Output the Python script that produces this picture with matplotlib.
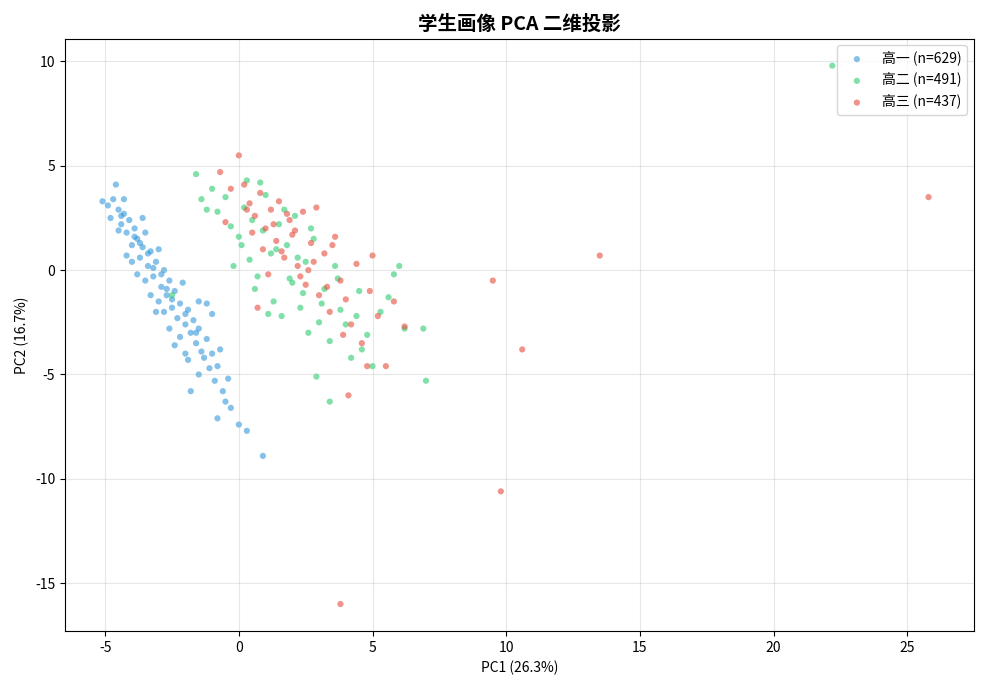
import matplotlib
matplotlib.use("Agg")
import matplotlib.pyplot as plt

plt.rcParams['font.family'] = ['Noto Sans CJK SC', 'DejaVu Sans']
plt.rcParams['axes.unicode_minus'] = False

labels = ["高一 (n=629)", "高二 (n=491)", "高三 (n=437)"]
colors = ["#3498db", "#2ecc71", "#e74c3c"]

g1_x = [-5.1,-4.9,-4.6,-4.7,-4.5,-4.4,-4.3,-4.2,-4.1,-4.5,-4.0,-3.9,-3.8,-3.7,-3.6,-3.5,-4.2,-3.4,-3.3,-3.2,-3.1,-3.0,-3.5,-2.9,-2.8,-2.7,-2.6,-3.0,-2.5,-2.4,-2.3,-2.2,-2.1,-2.8,-2.0,-1.9,-1.8,-1.7,-2.2,-1.6,-1.5,-1.4,-1.3,-1.2,-1.1,-1.0,-0.9,-0.8,-1.5,-0.6,-0.5,-0.4,-0.8,0.0,0.3,0.9,-1.8,-1.2,-1.0,-1.5,-3.8,-4.0,-2.6,-2.0,-3.3,-4.8,-4.3,-3.6,-2.4,-1.9,-0.3,-0.7,-3.1,-3.9,-3.4,-2.9,-2.5,-2.0,-1.6,-4.4,-3.7,-3.2,-2.7]
g1_y = [3.3,3.1,4.1,3.4,2.9,2.2,2.7,1.8,2.4,1.9,1.2,2.0,1.5,0.6,1.1,1.8,0.7,0.2,0.9,-0.3,0.4,1.0,-0.5,-0.8,0.0,-1.2,-0.5,-1.5,-1.8,-1.0,-2.3,-1.6,-0.6,-2.0,-2.6,-1.9,-3.0,-2.4,-3.2,-3.5,-2.8,-3.9,-4.2,-3.3,-4.7,-4.0,-5.3,-4.6,-5.0,-5.8,-6.3,-5.2,-7.1,-7.4,-7.7,-8.9,-5.8,-1.6,-2.1,-1.5,-0.2,0.4,-2.8,-4.0,-1.2,2.5,3.4,2.5,-3.6,-4.3,-6.6,-3.8,-2.0,1.6,0.8,-0.2,-1.4,-2.1,-3.0,2.6,1.3,0.1,-0.9]

g2_x = [22.2,-2.5,-1.6,-1.4,-1.0,-0.8,-0.5,-0.3,0.0,0.2,0.4,0.5,0.7,0.9,1.0,1.2,1.3,1.5,1.6,1.8,2.0,2.1,2.3,2.5,2.6,2.8,3.0,3.2,3.4,3.6,3.8,4.0,4.2,4.5,4.8,5.0,5.3,5.6,6.0,6.2,6.9,7.0,3.4,2.9,0.1,-0.2,1.1,1.9,2.4,3.1,0.6,4.6,5.8,1.4,-1.2,0.3,2.7,3.7,4.4,1.7,0.8,2.2]
g2_y = [9.8,-1.2,4.6,3.4,3.9,2.8,3.5,2.1,1.6,3.0,0.5,2.4,-0.3,1.9,3.6,0.8,-1.5,2.2,-2.2,1.2,-0.6,2.6,-1.8,0.4,-3.0,1.5,-2.5,-0.9,-3.4,0.2,-1.9,-2.6,-4.2,-1.0,-3.1,-4.6,-2.0,-1.3,0.2,-2.8,-2.8,-5.3,-6.3,-5.1,1.2,0.2,-2.1,-0.4,-1.1,-1.6,-0.9,-3.8,-0.2,1.0,2.9,4.3,2.0,-0.4,-2.2,2.9,4.2,0.6]

g3_x = [25.8,13.5,9.5,10.6,9.8,3.8,4.1,0.0,-0.7,-0.3,0.2,0.4,0.6,0.8,1.0,1.2,1.4,1.5,1.7,1.9,2.0,2.2,2.4,2.5,2.7,2.9,3.0,3.2,3.4,3.6,3.8,4.0,4.2,4.4,4.6,4.9,5.2,5.5,5.8,6.2,0.9,1.3,1.6,2.1,2.6,3.3,0.5,1.8,2.3,2.8,3.5,4.8,0.3,1.1,3.9,5.0,-0.5,0.7]
g3_y = [3.5,0.7,-0.5,-3.8,-10.6,-16.0,-6.0,5.5,4.7,3.9,4.1,3.2,2.6,3.7,2.0,2.9,1.4,3.3,0.6,2.4,1.7,0.2,2.8,-0.7,1.3,3.0,-1.2,0.8,-2.0,1.6,-0.5,-1.4,-2.6,0.3,-3.5,-1.0,-2.2,-4.6,-1.5,-2.7,1.0,2.2,0.9,1.9,0.0,-0.8,1.8,2.7,-0.3,0.4,1.2,-4.6,2.9,-0.2,-3.1,0.7,2.3,-1.8]

fig, ax = plt.subplots(figsize=(9.89, 6.9), dpi=100)
for x, y, lab, c in zip([g1_x, g2_x, g3_x], [g1_y, g2_y, g3_y], labels, colors):
    ax.scatter(x, y, s=20, c=c, alpha=0.6, edgecolors='none', label=lab)
ax.set_xlim(-6.5, 27.5)
ax.set_ylim(-17.3, 11.1)
ax.set_xlabel("PC1 (26.3%)")
ax.set_ylabel("PC2 (16.7%)")
ax.set_title("学生画像 PCA 二维投影", fontsize=14, fontweight='bold')
ax.grid(True, alpha=0.3)
ax.legend(loc='upper right')
fig.tight_layout()
fig.savefig("out.png")
